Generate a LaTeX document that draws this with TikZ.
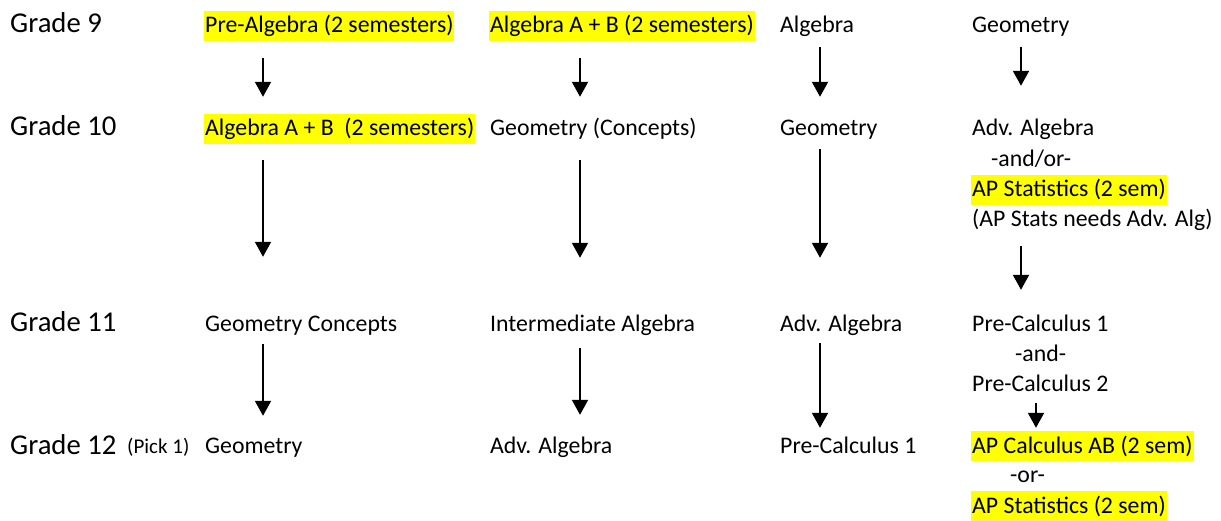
\documentclass[tikz,border=0pt]{standalone}
\usepackage{fontspec}
\setmainfont{Carlito}
\usetikzlibrary{arrows.meta}
\definecolor{Mark}{HTML}{FFFF00}

\begin{document}
\begin{tikzpicture}[x=1pt,y=1pt,
  grade/.style={anchor=base west,inner sep=0pt,font=\fontsize{28.7}{32}\selectfont},
  course/.style={anchor=base west,inner ysep=0pt,inner xsep=1pt,text height=22pt,text depth=8pt,
    font=\fontsize{23.8}{28}\selectfont},
  hl/.style={course,fill=Mark},
  arr/.style={line width=2pt,-{Triangle[length=15pt,width=16pt]}}]
\path[use as bounding box,fill=white] (0,0) rectangle (1221,520);
% grade 9
\node[grade] (g9) at (10,487) {Grade 9};
\node[hl] (pa9) at (204,487) {Pre-Algebra (2 semesters)};
\node[hl] (ab9) at (489,487) {Algebra A + B (2 semesters)};
\node[course] (al9) at (779,487) {Algebra};
\node[course] (ge9) at (971,487) {Geometry};
% grade 10
\node[grade] (g10) at (10,384) {Grade 10};
\node[hl] (ab10) at (204,384) {Algebra A + B\ \ (2 semesters)};
\node[course] (gc10) at (489,384) {Geometry (Concepts)};
\node[course] (ge10) at (779,384) {Geometry};
\node[course] (aa10) at (971,384) {Adv. Algebra};
\node[course] (andor10) at (990,353) {-and/or-};
\node[hl] (aps10) at (971,323) {AP Statistics (2 sem)};
\node[course] (need10) at (971,293) {(AP Stats needs Adv. Alg)};
% grade 11
\node[grade] (g11) at (10,188) {Grade 11};
\node[course] (gc11) at (204,188) {Geometry Concepts};
\node[course] (ia11) at (489,188) {Intermediate Algebra};
\node[course] (aa11) at (779,188) {Adv. Algebra};
\node[course] (pc11) at (971,188) {Pre-Calculus 1};
\node[course] (and11) at (1014,158) {-and-};
\node[course] (pcb11) at (971,129) {Pre-Calculus 2};
% grade 12
\node[grade] (g12) at (10,66) {Grade 12};
\node[course,font=\fontsize{21}{24}\selectfont] (pick12) at (126,67) {(Pick 1)};
\node[course] (ge12) at (204,67) {Geometry};
\node[course] (aa12) at (489,67) {Adv. Algebra};
\node[course] (pc12) at (779,67) {Pre-Calculus 1};
\node[hl] (apc12) at (971,67) {AP Calculus AB (2 sem)};
\node[course] (or12) at (1009,38) {-or-};
\node[hl] (aps12) at (971,7) {AP Statistics (2 sem)};
% arrows
\draw[arr] ([xshift=59pt,yshift=-17pt]pa9.south west) -- ([xshift=59pt,yshift=17pt]ab10.north west);
\draw[arr] ([xshift=91pt,yshift=-17pt]ab9.south west) -- ([xshift=91pt,yshift=17pt]gc10.north west);
\draw[arr] ([xshift=41pt,yshift=-6pt]al9.south west) -- ([xshift=41pt,yshift=17pt]ge10.north west);
\draw[arr] ([xshift=50pt,yshift=-6pt]ge9.south west) -- ([xshift=50pt,yshift=28pt]aa10.north west);
\draw[arr] ([xshift=59pt,yshift=-16pt]ab10.south west) -- ([xshift=59pt,yshift=53pt]gc11.north west);
\draw[arr] ([xshift=91pt,yshift=-16pt]gc10.south west) -- ([xshift=91pt,yshift=52pt]ia11.north west);
\draw[arr] ([xshift=41pt,yshift=-5pt]ge10.south west) -- ([xshift=41pt,yshift=52pt]aa11.north west);
\draw[arr] ([xshift=50pt,yshift=-11pt]need10.south west) -- ([xshift=50pt,yshift=20pt]pc11.north west);
\draw[arr] ([xshift=59pt,yshift=-4pt]gc11.south west) -- ([xshift=59pt,yshift=15pt]ge12.north west);
\draw[arr] ([xshift=91pt,yshift=-8pt]ia11.south west) -- ([xshift=91pt,yshift=16pt]aa12.north west);
\draw[arr] ([xshift=41pt,yshift=-3pt]aa11.south west) -- ([xshift=41pt,yshift=3pt]pc12.north west);
\draw[arr] ([xshift=65pt,yshift=-4pt]pcb11.south west) -- ([xshift=65pt,yshift=3pt]apc12.north west);
\end{tikzpicture}
\end{document}
